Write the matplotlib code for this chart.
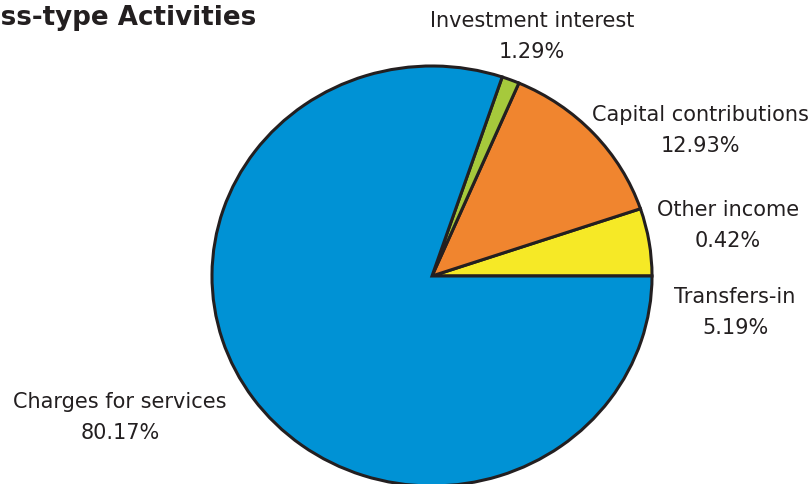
import matplotlib
matplotlib.use("Agg")
import matplotlib.pyplot as plt

# Revenue sources, listed counter-clockwise from 3 o'clock
categories = ["Transfers-in", "Other income", "Capital contributions",
              "Investment interest", "Charges for services"]
shares = [5.19, 0.42, 12.93, 1.29, 80.17]
colors = ["#F6E926", "#F0852F", "#F0852F", "#A6C93C", "#0092D5"]
title = "Business-type Activities"

W, H = 811, 484
fig = plt.figure(figsize=(W / 100, H / 100), dpi=100)
ax = fig.add_axes([0, 0, 1, 1])

# pie geometry in pixels (centre from top-left, radii)
cx, cy, rx, ry = 432, 276, 220, 210

wedges, _ = ax.pie(
    shares, colors=colors, startangle=0, counterclock=True, radius=1,
    wedgeprops=dict(edgecolor="#231F20", linewidth=2.2),
)
# the small "Other income" slice is merged into the neighbouring wedge
wedges[2].set_theta1(wedges[1].theta1)
wedges[1].set_visible(False)

ax.set_xlim(-cx / rx, (W - cx) / rx)
ax.set_ylim(-(H - cy) / ry, cy / ry)
ax.set_aspect("auto")
ax.axis("off")

txt = "#231F20"
fs = 15

def put(x, y, s, **kw):
    fig.text(x / W, 1 - y / H, s, color=txt, fontsize=fs,
             ha="center", va="center", **kw)

label_pos = {
    "Transfers-in": (735, 297),
    "Other income": (728, 210),
    "Capital contributions": (700, 115),
    "Investment interest": (532, 21),
    "Charges for services": (120, 402),
}
for name, val in zip(categories, shares):
    x, y = label_pos[name]
    put(x, y, name)
    put(x, y + 31, f"{val:.2f}%")

fig.text(256 / W, 1 - 18 / H, title, color=txt, fontsize=18.8,
         fontweight="bold", ha="right", va="center")

fig.savefig("out.png", dpi=100, facecolor="white")
